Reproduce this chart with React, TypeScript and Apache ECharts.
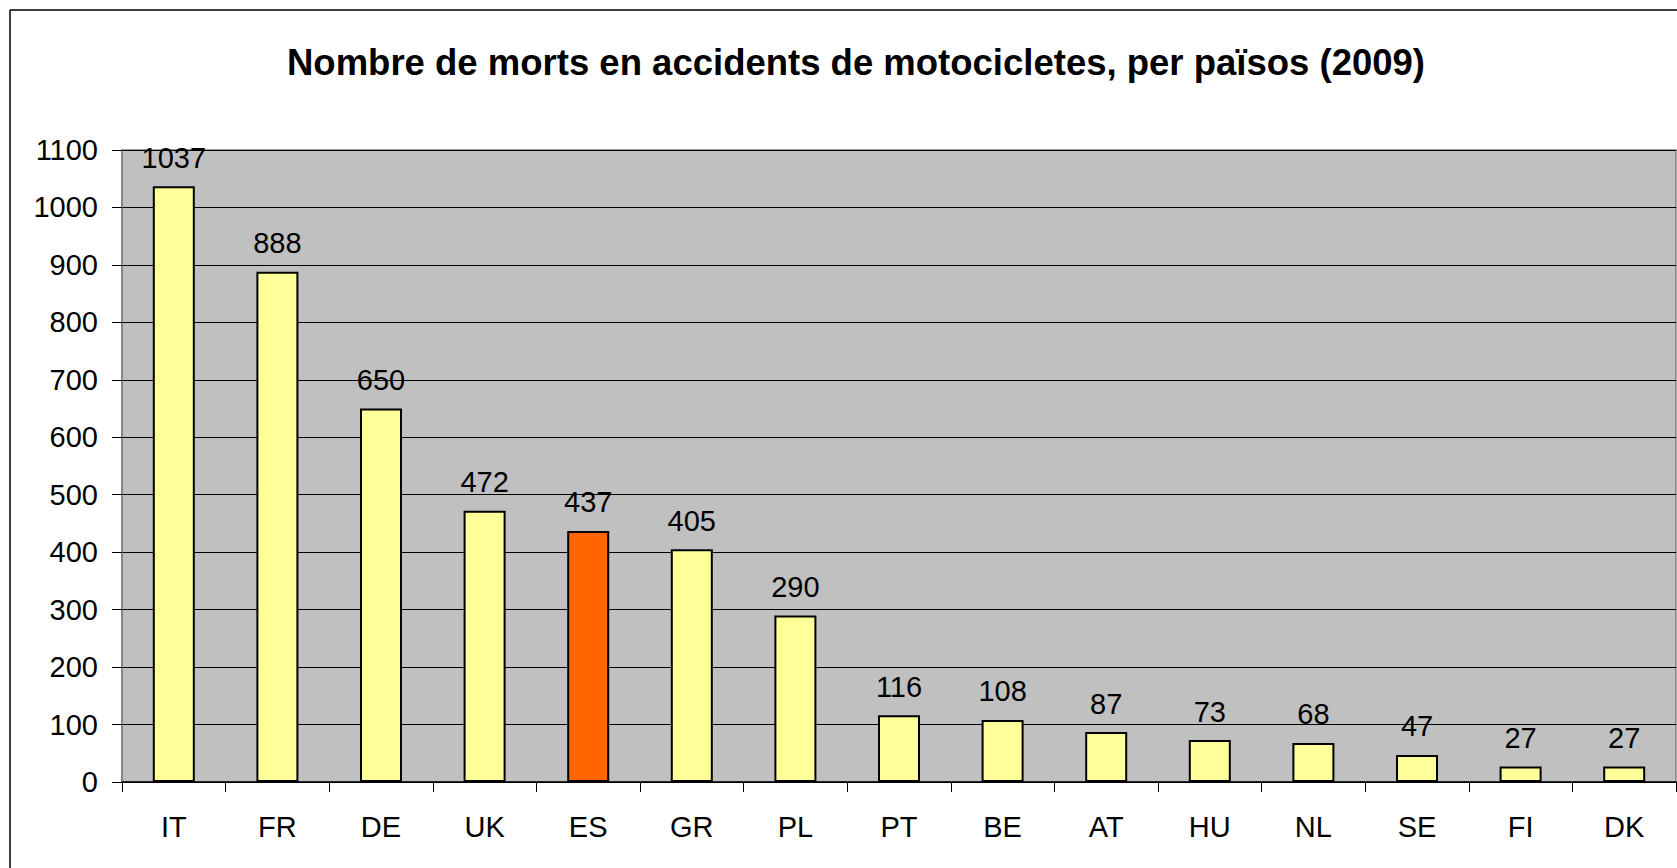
import React, { useEffect, useRef } from "react";
import * as echarts from "echarts";

const titleText = "Nombre de morts en accidents de motocicletes, per països (2009)";
const countries = ["IT", "FR", "DE", "UK", "ES", "GR", "PL", "PT", "BE", "AT", "HU", "NL", "SE", "FI", "DK"];
const deaths = [1037, 888, 650, 472, 437, 405, 290, 116, 108, 87, 73, 68, 47, 27, 27];
const highlighted = ["ES"];

export default function App() {
  const ref = useRef<HTMLDivElement>(null);
  useEffect(() => {
    document.body.style.margin = "0";
    const chart = echarts.init(ref.current!, undefined, { renderer: "svg" });
    const font = "'Liberation Sans', Arial, sans-serif";
    chart.setOption({
      animation: false,
      backgroundColor: "#ffffff",
      title: {
        text: titleText,
        left: 851,
        top: 39,
        textAlign: "center",
        textStyle: {
          fontFamily: font,
          fontWeight: "bold",
          fontSize: 36.5,
          color: "#000",
        },
      },
      graphic: [
        { type: "line", shape: { x1: 10, y1: 10, x2: 1677, y2: 10 }, style: { stroke: "#000", lineWidth: 1.5 } },
        { type: "line", shape: { x1: 10, y1: 10, x2: 10, y2: 868 }, style: { stroke: "#000", lineWidth: 1.5 } },
      ],
      grid: {
        left: 122,
        top: 150,
        right: 1,
        bottom: 86,
        show: true,
        backgroundColor: "#C0C0C0",
        borderColor: "#808080",
        borderWidth: 1.5,
      },
      xAxis: {
        type: "category",
        data: countries,
        axisLine: { show: true, lineStyle: { color: "#000", width: 1.5 } },
        axisTick: { show: true, length: 10, alignWithLabel: false, lineStyle: { color: "#000", width: 1 } },
        axisLabel: { fontFamily: font, fontSize: 29, color: "#000", margin: 30 },
      },
      yAxis: {
        type: "value",
        min: 0,
        max: 1100,
        interval: 100,
        axisLine: { show: true, lineStyle: { color: "#808080", width: 1.5 } },
        axisTick: { show: true, length: 10, lineStyle: { color: "#000", width: 1 } },
        axisLabel: { fontFamily: font, fontSize: 29, color: "#000", margin: 24, formatter: (v: number) => String(v) },
        splitLine: { show: true, lineStyle: { color: "#000", width: 1 } },
      },
      series: [
        {
          type: "bar",
          barWidth: 42,
          data: deaths.map((v, i) => ({
            value: v,
            itemStyle: {
              color: highlighted.includes(countries[i]) ? "#FF6600" : "#FFFF99",
              borderColor: "#000",
              borderWidth: 2,
            },
          })),
          label: {
            show: true,
            position: "top",
            distance: 14,
            fontFamily: font,
            fontSize: 29,
            color: "#000",
          },
        },
      ],
    });
    return () => chart.dispose();
  }, []);
  return <div ref={ref} style={{ position: "fixed", left: 0, top: 0, width: 1677, height: 868 }} />;
}
